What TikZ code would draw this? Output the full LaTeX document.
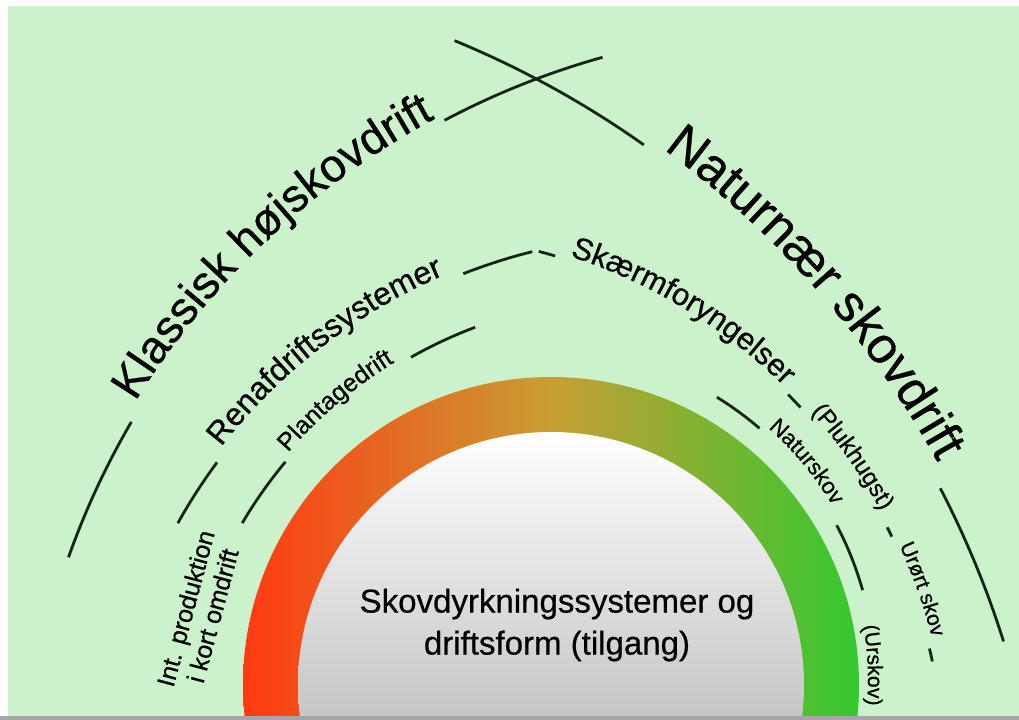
\documentclass[tikz,border=0pt]{standalone}
\usepackage{fontspec}
\setmainfont{Liberation Sans}[FakeBold=0.6]
\usepackage{tikz}
\usetikzlibrary{decorations.text}

\definecolor{bggreen}{RGB}{204,242,204}
\definecolor{bandred}{RGB}{255,58,18}
\definecolor{bandochre}{RGB}{200,158,52}
\definecolor{bandgreen}{RGB}{52,200,48}
\definecolor{inkline}{RGB}{22,38,22}

% text set along an arc: centre, radius, start, end, size, text
\newcommand{\arclabel}[6]{%
  \path[decorate,decoration={text along path,text={|\fontsize{#5}{#5}\selectfont|#6}}]
    (#1) ++(#3:#2) arc[start angle=#3,end angle=#4,radius=#2];}

\begin{document}
\begin{tikzpicture}[x=0.02cm,y=-0.02cm,
  arcline/.style={draw=inkline,line width=1.6pt}]
\useasboundingbox (0,0) rectangle (1019,720);
\fill[white] (0,0) rectangle (1019,720);
\fill[bggreen] (8,6) rectangle (1019,716);

% centres of the arcs
\coordinate (band) at (551,685);
\coordinate (c1) at (816,822);
\coordinate (c2) at (88,930);
\coordinate (c3) at (668,796);
\coordinate (c4) at (403,773);
\coordinate (c5) at (636,755);
\coordinate (c6) at (543,680);

% the coloured band
\begin{scope}
\clip (0,0) rectangle (1019,716);
\shade[left color=bandred,right color=bandgreen,middle color=bandochre] (band) circle[radius=308];
\shade[top color=white,bottom color=black!40] (band) circle[radius=253];
\end{scope}

% outer tier
\draw[arcline] (c1) ++(-160.5:793) arc[start angle=-160.5,end angle=-149.7,radius=793];
\arclabel{c1}{800}{-148.3}{-105}{26.2pt}{Klassisk højskovdrift}
\draw[arcline] (c1) ++(-117.9:794) arc[start angle=-117.9,end angle=-105.6,radius=794];

\draw[arcline] (c2) ++(-67.6:962) arc[start angle=-67.6,end angle=-54.7,radius=962];
\arclabel{c2}{970}{-53.6}{-15}{29pt}{Naturnær skovdrift}
\draw[arcline] (c2) ++(-27.4:960) arc[start angle=-27.4,end angle=-17.5,radius=960];

% middle tier
\draw[arcline] (c3) ++(-150.9:561) arc[start angle=-150.9,end angle=-143.5,radius=561];
\arclabel{c3}{567}{-142}{-95}{18.2pt}{Renafdriftssystemer}
\draw[arcline] (c3) ++(-111.4:561) arc[start angle=-111.4,end angle=-104.0,radius=561];

\draw[arcline] (c4) ++(-75.4:539) arc[start angle=-75.4,end angle=-73.6,radius=539];
\arclabel{c4}{543}{-72.1}{-35}{17.6pt}{Skærmforyngelser}
\draw[arcline] (c4) ++(-44.5:540) arc[start angle=-44.5,end angle=-42.6,radius=540];
\arclabel{c4}{545}{-41.5}{-15}{13.7pt}{(Plukhugst)}
\draw[arcline] (c4) ++(-26.9:543) arc[start angle=-26.9,end angle=-25.8,radius=543];
\arclabel{c4}{546}{-24.6}{0}{12pt}{Urørt skov}
\draw[arcline] (c4) ++(-13.3:541) arc[start angle=-13.3,end angle=-11.9,radius=541];

% inner tier
\draw[arcline] (c5) ++(-149.5:457) arc[start angle=-149.5,end angle=-140.1,radius=457];
\arclabel{c5}{461}{-139}{-110}{14.2pt}{Plantagedrift}
\draw[arcline] (c5) ++(-119.5:457) arc[start angle=-119.5,end angle=-110.6,radius=457];

\draw[arcline] (c6) ++(-58.4:332) arc[start angle=-58.4,end angle=-49.3,radius=332];
\arclabel{c6}{338}{-48.2}{-20}{12.8pt}{Naturskov}
\draw[arcline] (c6) ++(-27.8:332) arc[start angle=-27.8,end angle=-15.7,radius=332];
\arclabel{c6}{325}{-9.6}{25}{12pt}{(Urskov)}

\node[rotate=75,align=center,inner sep=0pt,font=\fontsize{14.2pt}{15.9pt}\selectfont] (intprod) at (199,612) {Int. produktion\\i kort omdrift};

\node[align=center,inner sep=0pt,font=\fontsize{18.8pt}{23.9pt}\selectfont] (system) at (557,625) {Skovdyrkningssystemer og\\driftsform (tilgang)};

\fill[gray!70] (0,716) rectangle (1019,720);
\end{tikzpicture}
\end{document}
